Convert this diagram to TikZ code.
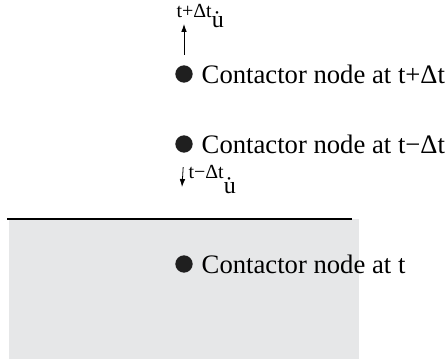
\documentclass[tikz,border=0pt]{standalone}
\usepackage{fontspec}
\setmainfont{Liberation Serif}
\usetikzlibrary{arrows.meta,positioning}

\definecolor{slab}{RGB}{230,231,232}

\begin{document}
\begin{tikzpicture}[x=0.75pt, y=-0.75pt, >={Latex[length=6pt,width=4.2pt]}, thick,
    contact/.style={circle, fill=black!88, inner sep=0pt, minimum size=13pt},
    caption/.style={inner sep=0pt, font=\fontsize{20}{24}\selectfont},
    vel/.style={inner sep=0pt, anchor=base west, font=\fontsize{15}{17}\selectfont},
    line/.style={draw, ->, line width=0.6pt}]

    \useasboundingbox (0,0) rectangle (446,359);
    \fill [slab] (9,219) rectangle (359,359);
    \draw [line width=1.6pt] (7,219) -- (352,219);

    \node [contact] (plus) at (184,74) {};
    \node [contact] (minus) at (184,144) {};
    \node [contact] (now) at (184,264) {};

    \node [caption, right=6pt of plus] (plustext) {Contactor node at t+Δt};
    \node [caption, right=6pt of minus] (minustext) {Contactor node at t−Δt};
    \node [caption, right=6pt of now] (nowtext) {Contactor node at t};

    \node [vel] (velplus) at (176,18) {t+Δt\raisebox{-7pt}{\fontsize{18}{20}\selectfont u̇}};
    \node [vel] (velminus) at (188,179) {t−Δt\raisebox{-11pt}{\fontsize{18}{20}\selectfont u̇}};

    \coordinate (tipplus) at (184,24);
    \coordinate (tipminus) at (182,187);

    \path [line, shorten <=7.5pt] (plus.north) -- (tipplus);
    \path [line, shorten <=10.5pt] (minus.south) -- (tipminus);

\end{tikzpicture}
\end{document}
